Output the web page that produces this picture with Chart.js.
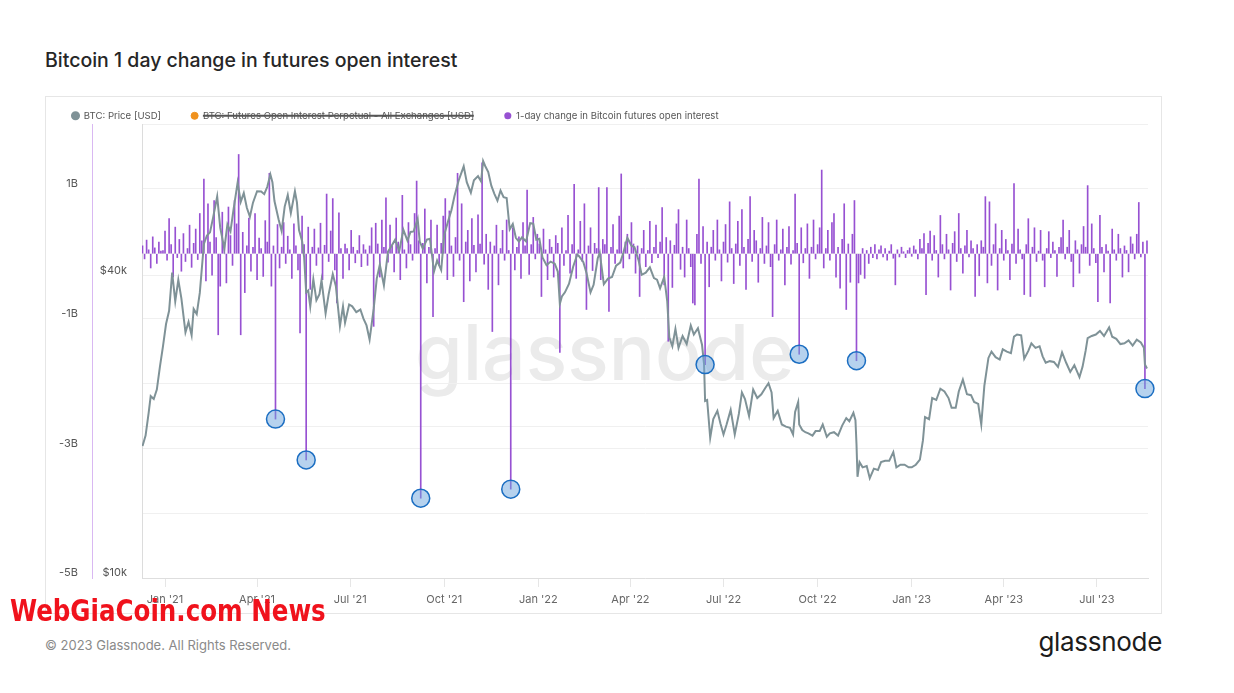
<!DOCTYPE html>
<html>
<head>
  <meta charset="UTF-8" />
  <title>Bitcoin 1 day change in futures open interest</title>
  <script src="https://cdn.jsdelivr.net/npm/chart.js"></script>
  <style>
    body { margin: 0; background: #fff; font-family: Inter, "Noto Sans", sans-serif; }
    .page { position: relative; width: 1234px; height: 693px; overflow: hidden; }
    h1 {
      position: absolute; left: 45px; top: 48px; margin: 0;
      font-size: 19.5px; line-height: 24px; font-weight: 500; color: #262626;
    }
    .card {
      position: absolute; left: 45px; top: 96px; width: 1115px; height: 516px;
      border: 1px solid #e6e6e6;
    }
    .card canvas { position: absolute; left: 0; top: 0; }
    .copy {
      position: absolute; left: 45px; top: 637px;
      font-size: 13px; line-height: 16px; color: #8a8a8a;
    }
    .logo {
      position: absolute; right: 72px; top: 627px;
      font-size: 26px; line-height: 30px; font-weight: 400; color: #1c1c1c; letter-spacing: -0.3px;
    }
    .stamp {
      position: absolute; left: 10px; top: 594px; z-index: 5;
      font-family: "DejaVu Sans Condensed", "Liberation Sans Narrow", sans-serif;
      font-size: 30px; line-height: 34px; font-weight: bold; color: #f0121c;
      transform: scaleX(0.91); transform-origin: left center; white-space: nowrap;
    }
  </style>
</head>
<body>
<div class="page">
  <h1>Bitcoin 1 day change in futures open interest</h1>
  <div class="card">
    <canvas id="oiChart" width="1115" height="516"></canvas>
  </div>
  <div class="copy">© 2023 Glassnode. All Rights Reserved.</div>
  <div class="logo">glassnode</div>
  <div class="stamp">WebGiaCoin.com News</div>
</div>

<script>
// BTC price
const priceDates = [
  '2020-12-10','2020-12-13','2020-12-16','2020-12-18','2020-12-21','2020-12-24','2020-12-27','2020-12-30',
  '2021-01-02','2021-01-05','2021-01-08','2021-01-11','2021-01-14','2021-01-17','2021-01-21','2021-01-24',
  '2021-01-27','2021-01-29','2021-02-01','2021-02-04','2021-02-08','2021-02-11','2021-02-14','2021-02-17',
  '2021-02-21','2021-02-24','2021-02-28','2021-03-03','2021-03-06','2021-03-09','2021-03-13','2021-03-16',
  '2021-03-19','2021-03-22','2021-03-25','2021-03-28','2021-04-01','2021-04-05','2021-04-08','2021-04-11',
  '2021-04-14','2021-04-16','2021-04-18','2021-04-22','2021-04-25','2021-04-28','2021-05-01','2021-05-04',
  '2021-05-08','2021-05-10','2021-05-12','2021-05-15','2021-05-17','2021-05-19','2021-05-21','2021-05-23',
  '2021-05-26','2021-05-29','2021-06-01','2021-06-03','2021-06-07','2021-06-10','2021-06-14','2021-06-17',
  '2021-06-21','2021-06-24','2021-06-26','2021-06-30','2021-07-03','2021-07-07','2021-07-11','2021-07-14',
  '2021-07-17','2021-07-20','2021-07-24','2021-07-27','2021-07-30','2021-08-03','2021-08-07','2021-08-10',
  '2021-08-14','2021-08-18','2021-08-22','2021-08-26','2021-08-29','2021-09-01','2021-09-05','2021-09-07',
  '2021-09-10','2021-09-14','2021-09-17','2021-09-21','2021-09-24','2021-09-28','2021-10-01','2021-10-05',
  '2021-10-08','2021-10-11','2021-10-15','2021-10-20','2021-10-23','2021-10-27','2021-10-30','2021-11-03',
  '2021-11-06','2021-11-08','2021-11-10','2021-11-13','2021-11-16','2021-11-19','2021-11-22','2021-11-25',
  '2021-11-28','2021-12-01','2021-12-04','2021-12-07','2021-12-10','2021-12-13','2021-12-16','2021-12-20',
  '2021-12-24','2021-12-27','2021-12-30','2022-01-02','2022-01-05','2022-01-09','2022-01-13','2022-01-17',
  '2022-01-20','2022-01-22','2022-01-24','2022-01-27','2022-01-31','2022-02-04','2022-02-08','2022-02-10',
  '2022-02-14','2022-02-17','2022-02-21','2022-02-24','2022-02-28','2022-03-02','2022-03-06','2022-03-10',
  '2022-03-14','2022-03-18','2022-03-22','2022-03-25','2022-03-29','2022-04-02','2022-04-05','2022-04-09',
  '2022-04-12','2022-04-16','2022-04-20','2022-04-24','2022-04-27','2022-04-30','2022-05-04','2022-05-07',
  '2022-05-09','2022-05-12','2022-05-15','2022-05-18','2022-05-22','2022-05-26','2022-05-30','2022-06-02',
  '2022-06-06','2022-06-10','2022-06-12','2022-06-13','2022-06-15','2022-06-18','2022-06-21','2022-06-25',
  '2022-06-28','2022-07-01','2022-07-04','2022-07-08','2022-07-12','2022-07-16','2022-07-19','2022-07-22',
  '2022-07-26','2022-07-30','2022-08-03','2022-08-07','2022-08-11','2022-08-14','2022-08-17','2022-08-19',
  '2022-08-23','2022-08-27','2022-08-31','2022-09-04','2022-09-07','2022-09-09','2022-09-12','2022-09-13',
  '2022-09-16','2022-09-19','2022-09-22','2022-09-26','2022-09-29','2022-10-03','2022-10-06','2022-10-10',
  '2022-10-13','2022-10-17','2022-10-21','2022-10-25','2022-10-29','2022-11-01','2022-11-05','2022-11-07',
  '2022-11-08','2022-11-09','2022-11-11','2022-11-14','2022-11-18','2022-11-21','2022-11-25','2022-11-29',
  '2022-12-02','2022-12-06','2022-12-10','2022-12-14','2022-12-17','2022-12-21','2022-12-25','2022-12-29',
  '2023-01-01','2023-01-05','2023-01-09','2023-01-12','2023-01-14','2023-01-18','2023-01-21','2023-01-25',
  '2023-01-29','2023-02-02','2023-02-06','2023-02-09','2023-02-13','2023-02-16','2023-02-20','2023-02-24',
  '2023-02-28','2023-03-03','2023-03-07','2023-03-10','2023-03-13','2023-03-17','2023-03-20','2023-03-24',
  '2023-03-28','2023-03-31','2023-04-04','2023-04-08','2023-04-11','2023-04-14','2023-04-18','2023-04-21',
  '2023-04-25','2023-04-28','2023-05-02','2023-05-06','2023-05-09','2023-05-12','2023-05-16','2023-05-20',
  '2023-05-24','2023-05-28','2023-06-01','2023-06-05','2023-06-09','2023-06-14','2023-06-17','2023-06-20',
  '2023-06-22','2023-06-26','2023-06-30','2023-07-04','2023-07-08','2023-07-13','2023-07-16','2023-07-20',
  '2023-07-24','2023-07-28','2023-08-01','2023-08-05','2023-08-09','2023-08-13','2023-08-16','2023-08-17',
  '2023-08-19'
];
const priceUsd = [
  18300,19200,21300,23000,22700,23700,26300,28900,
  32000,34000,40500,35500,39200,36000,30800,32300,
  30400,34300,33500,36900,46200,48000,48700,52100,
  57400,49700,45200,50500,48900,54100,61200,56000,
  58300,54500,52300,55800,58800,58700,58000,60000,
  63500,61300,56200,51700,49000,54800,57800,53200,
  58800,55800,49200,46800,43500,37000,37300,34700,
  39300,35700,36700,39100,33600,36700,40200,38100,
  31700,34700,32200,35000,34700,33800,34200,32800,
  31800,29800,34300,39400,42000,38200,44600,45600,
  47100,44700,49300,46900,48800,48900,51800,46700,
  45200,47100,47300,40700,42800,41000,48200,51500,
  53900,57500,61700,65900,61300,58400,61800,63000,
  61500,67500,66000,64200,60300,58100,56300,59000,
  57200,57000,49400,50600,47500,46700,47600,46700,
  50800,50700,47100,47300,43400,41900,42600,42200,
  40700,35100,36300,37000,38500,41600,44000,43600,
  42500,40500,37000,38300,43200,44400,38400,39400,
  39700,41800,42400,44300,47500,45800,45500,42800,
  40100,40500,41500,39500,39200,37700,39700,35500,
  30100,28900,31300,28700,30300,29200,31800,30500,
  31400,29100,26600,22500,22600,19000,20700,21500,
  20300,19300,20200,21600,19300,21200,23400,22700,
  21000,23700,22800,23200,23900,24400,23400,20800,
  21500,20200,20000,19900,19300,21400,22400,20200,
  19700,19500,19400,19200,19600,19600,20200,19100,
  19400,19500,19200,20100,20800,20500,21300,20600,
  18500,15900,17000,16600,16700,15800,16500,16400,
  17000,17100,17100,17800,16600,16800,16800,16600,
  16600,16800,17200,18800,20900,20700,22800,22600,
  23800,23500,22800,21800,21800,23500,24800,23200,
  23100,22400,22200,20200,24100,27400,28200,27500,
  27200,28500,28200,28000,30200,30500,30400,27300,
  28300,29300,28700,28900,27600,26800,27000,26900,
  26300,28100,26800,25700,26500,25100,26300,28300,
  30000,30300,30500,31000,30300,31500,30200,29900,
  29200,29300,29700,29000,29800,29400,28700,26600,
  26100
];

// 1-day change in futures open interest, billions USD, one bar every 2 days from oiStart
const oiStart = '2020-12-10';
const oiStepDays = 2;
const oiChangeB = [
  0.12,-0.08,0.21,0.06,-0.22,0.26,0.09,-0.15,0.18,0.04,       // Dec 10 2020
  0.05,0.35,-0.10,0.54,0.14,-0.36,0.41,-0.06,0.22,-0.27,      // Dec 30
  0.31,-0.12,0.08,0.44,-0.21,0.16,0.38,-0.09,0.62,0.20,       // Jan 19 2021
  1.15,-0.42,0.77,0.18,-0.33,0.82,0.25,-1.25,-0.50,0.64,      // Feb 8
  0.15,-0.45,0.72,0.28,-0.18,0.82,0.46,1.53,-1.25,0.33,       // Feb 28
  -0.60,0.12,0.55,-0.27,0.10,0.62,-0.40,0.24,0.08,-0.35,      // Mar 20
  0.51,0.18,1.24,-0.50,0.12,-2.55,0.45,-0.22,0.10,0.48,       // Apr 9
  -0.15,0.27,0.06,-0.38,0.46,0.12,-0.25,-1.22,0.58,0.14,      // Apr 29
  -3.18,0.41,-0.55,0.10,0.38,-0.18,0.09,0.47,-0.40,0.13,      // May 19
  0.92,-0.12,0.35,0.85,-0.25,-0.76,0.63,0.08,-0.38,0.15,      // Jun 8
  0.08,-0.25,0.36,0.10,-0.14,0.05,0.28,-0.20,0.14,0.06,       // Jun 28
  -0.18,0.12,0.40,-1.12,0.47,0.15,-0.36,0.52,0.10,0.86,       // Jul 18
  -0.13,0.44,0.12,-0.28,0.55,0.18,-0.40,0.90,0.06,-0.22,      // Aug 7
  0.48,0.14,-0.10,0.62,1.12,0.20,-3.77,0.16,0.69,-0.45,       // Aug 27
  0.10,0.52,-0.97,0.08,0.44,-0.18,0.16,0.58,0.85,-0.40,       // Sep 16
  0.66,0.12,-0.35,0.25,1.24,-0.10,0.77,-0.74,0.18,0.36,       // Oct 6
  -0.42,0.54,0.13,-0.28,0.60,0.15,1.40,-0.16,0.30,-0.55,      // Oct 26
  0.18,-1.20,0.12,0.44,-0.48,0.08,0.36,-0.10,0.52,0.05,       // Nov 15
  -3.63,0.40,-0.25,0.10,0.26,-0.38,0.48,0.12,0.98,-0.32,      // Dec 5
  0.14,0.56,-0.08,0.30,0.15,-0.66,0.38,0.06,-0.40,0.22,       // Dec 25
  0.10,-0.36,0.28,0.16,-1.52,0.40,-0.18,0.05,0.59,-0.30,      // Jan 14 2022
  0.14,1.07,-0.38,0.06,0.50,-0.12,0.77,-0.86,0.12,0.40,       // Feb 3
  -0.26,0.16,0.08,1.02,-0.40,0.22,0.14,1.02,-0.89,0.10,       // Feb 23
  0.45,-0.15,0.06,0.58,1.23,-0.22,0.18,0.30,-0.08,0.48,       // Mar 15
  0.15,-0.30,0.12,-0.66,0.08,0.36,-0.20,0.05,0.50,-0.14,      // Apr 4
  0.10,0.44,-0.06,0.18,0.71,-0.48,0.25,-1.35,0.20,-0.52,      // Apr 24
  0.13,0.46,0.68,-0.24,0.10,-0.36,0.52,0.08,-0.20,-0.76,      // May 14
  -0.79,0.30,1.15,-0.15,0.42,-1.71,0.18,-0.51,0.10,0.36,      // Jun 3
  -0.10,0.52,0.06,-0.42,0.18,0.45,-0.13,0.80,0.08,-0.46,      // Jun 23
  0.15,0.50,-0.18,0.68,0.10,-0.55,0.22,0.88,-0.12,0.36,       // Jul 13
  0.20,-0.44,0.08,0.56,-0.15,0.12,0.48,-0.20,-0.97,0.14,      // Aug 2
  0.52,-0.10,0.06,0.38,-0.48,0.10,0.42,-0.16,0.05,0.92,       // Aug 22
  0.16,-1.55,0.40,-0.14,0.08,0.46,-0.38,0.10,0.52,-0.08,      // Sep 11
  0.14,0.40,1.29,-0.22,0.08,0.36,-0.10,0.48,0.62,-0.36,       // Oct 1
  0.10,-0.53,0.22,0.77,-0.86,0.15,-0.44,0.30,0.82,-1.65,      // Oct 21
  -0.45,-0.32,0.08,-0.38,0.05,-0.15,0.10,-0.06,0.14,-0.08,    // Nov 10
  0.06,0.12,-0.05,0.08,-0.10,0.04,0.14,-0.07,-0.48,0.06,      // Nov 30
  -0.05,0.10,0.03,-0.06,0.05,0.09,-0.04,0.12,0.06,-0.08,      // Dec 20
  0.22,0.08,0.31,-0.63,0.16,0.35,-0.10,0.28,0.05,-0.36,       // Jan 9 2023
  0.59,0.14,-0.08,0.30,0.06,-0.56,0.16,0.34,-0.12,0.62,       // Jan 29
  0.08,-0.30,0.12,0.36,-0.05,0.20,0.08,-0.66,0.14,-0.34,      // Feb 18
  0.20,0.10,0.88,-0.45,0.80,-0.18,0.14,0.46,-0.56,0.08,       // Mar 10
  0.36,-0.10,0.22,0.05,-0.40,0.15,1.08,-0.15,0.38,0.06,       // Mar 30
  -0.08,-0.63,0.14,0.54,-0.66,0.10,0.40,-0.12,0.04,0.36,      // Apr 19
  -0.10,-0.51,0.08,0.34,-0.06,0.18,0.05,-0.35,0.10,0.25,      // May 9
  0.52,-0.08,0.10,0.36,-0.12,-0.51,0.20,0.06,-0.30,0.14,      // May 29
  0.42,0.10,1.05,-0.18,0.46,0.08,-0.14,-0.74,0.59,0.10,       // Jun 18
  -0.28,0.14,0.04,-0.76,0.38,0.06,-0.10,0.30,0.08,-0.36,      // Jul 8
  0.12,0.05,-0.28,0.26,0.15,-0.08,0.30,0.79,-0.05,0.18,       // Jul 28
  -2.08,0.20                                                  // Aug 17
];

// days circled in blue on the reference
const flaggedDates = ['2021-04-19','2021-05-19','2021-09-08','2021-12-05','2022-06-13','2022-09-13','2022-11-08','2023-08-17'];

const xTickDates = ['2021-01-01','2021-04-01','2021-07-01','2021-10-01','2022-01-01','2022-04-01','2022-07-01','2022-10-01','2023-01-01','2023-04-01','2023-07-01'];
const xTickLabels = ["Jan '21","Apr '21","Jul '21","Oct '21","Jan '22","Apr '22","Jul '22","Oct '22","Jan '23","Apr '23","Jul '23"];
const bGridValues = [-5, -4, -3, -2, -1, 0, 1, 2];
const bTickValues = [-5, -3, -1, 1];
const bTickLabels = ['-5B', '-3B', '-1B', '1B'];
const priceGridValues = [10000, 20000, 40000, 80000];
const priceTickValues = [10000, 40000];
const priceTickLabels = ['$10k', '$40k'];

// days since 1 Jan 2021
function toDay(s) {
  const [y, m, d] = s.split('-').map(Number);
  return (Date.UTC(y, m - 1, d) - Date.UTC(2021, 0, 1)) / 86400000;
}

const xTickDays = xTickDates.map(toDay);
const priceData = priceDates.map((d, i) => ({ x: toDay(d), y: priceUsd[i] }));
const oiData = oiChangeB.map((v, i) => ({ x: toDay(oiStart) + i * oiStepDays, y: v }));
const flagData = flaggedDates.map(d => oiData.find(p => p.x === toDay(d)));

const watermark = {
  id: 'watermark',
  beforeDraw(chart) {
    const ctx = chart.ctx;
    ctx.save();
    ctx.font = '500 77px Inter, sans-serif';
    ctx.fillStyle = '#ebebeb';
    ctx.textBaseline = 'alphabetic';
    ctx.fillText('glassnode', 369, 283);
    ctx.restore();
  }
};

Chart.defaults.font.family = "Inter, 'Noto Sans', sans-serif";

const axisFont = { size: 11 };

new Chart(document.getElementById('oiChart'), {
  type: 'bar',
  data: {
    datasets: [
      {
        type: 'line',
        label: 'BTC: Price [USD]',
        data: priceData,
        yAxisID: 'yP',
        borderColor: '#7f9297',
        backgroundColor: '#7f9297',
        borderWidth: 2,
        pointRadius: 0,
        tension: 0,
        order: 1
      },
      {
        type: 'line',
        label: 'BTC: Futures Open Interest Perpetual - All Exchanges [USD]',
        data: [],
        hidden: true,
        yAxisID: 'yP',
        borderColor: '#f0921e',
        backgroundColor: '#f0921e',
        order: 1
      },
      {
        type: 'bar',
        label: '1-day change in Bitcoin futures open interest',
        data: oiData,
        yAxisID: 'yB',
        backgroundColor: 'rgba(140, 62, 205, 0.9)',
        borderColor: 'rgba(140, 62, 205, 0.9)',
        barThickness: 1,
        order: 2
      },
      {
        type: 'scatter',
        label: 'flags',
        data: flagData,
        yAxisID: 'yB',
        pointRadius: 9,
        backgroundColor: 'rgba(110, 165, 222, 0.5)',
        borderColor: '#1b6ec2',
        borderWidth: 1.5,
        clip: false,
        order: 0
      }
    ]
  },
  options: {
    responsive: false,
    animation: false,
    events: [],
    layout: { padding: { top: -16, left: -4, right: 13, bottom: 5 } },
    plugins: {
      tooltip: { enabled: false },
      legend: {
        position: 'top',
        align: 'start',
        maxHeight: 43,
        labels: {
          usePointStyle: true,
          pointStyle: 'circle',
          boxWidth: 7,
          boxHeight: 5,
          padding: 30,
          color: '#555',
          font: { size: 9.6 },
          filter: item => item.datasetIndex !== 3
        }
      }
    },
    scales: {
      x: {
        type: 'linear',
        min: toDay('2020-12-09') + 0.5,
        max: toDay('2023-08-20'),
        offset: false,
        afterBuildTicks: s => { s.ticks = xTickDays.map(v => ({ value: v })); },
        afterFit: s => { s.height = 30; },
        grid: { drawOnChartArea: false, drawTicks: true, tickLength: 9, color: '#e6e6e6', offset: false },
        border: { color: '#dedede' },
        ticks: {
          autoSkip: false, maxRotation: 0, padding: 6, color: '#666', font: axisFont,
          callback: v => xTickLabels[xTickDays.indexOf(v)]
        }
      },
      // inner left axis (declared first so it sits next to the plot)
      yP: {
        type: 'logarithmic',
        position: 'left',
        min: 10000,
        max: 80000,
        afterBuildTicks: s => { s.ticks = priceGridValues.map(v => ({ value: v })); },
        afterFit: s => { s.width = 50; },
        grid: { color: '#f0f0f0', drawTicks: false },
        border: { color: '#dcdcdc' },
        ticks: {
          padding: 15, labelOffset: -5, color: '#555', font: axisFont,
          callback: v => { const k = priceTickValues.indexOf(v); return k < 0 ? '' : priceTickLabels[k]; }
        }
      },
      yB: {
        type: 'linear',
        position: 'left',
        min: -5,
        max: 2,
        afterBuildTicks: s => { s.ticks = bGridValues.map(v => ({ value: v })); },
        afterFit: s => { s.width = 50; },
        grid: { color: '#f0f0f0', drawTicks: false },
        border: { color: '#d9b8f2' },
        ticks: {
          padding: 14, labelOffset: -5, color: '#555', font: axisFont,
          callback: v => { const k = bTickValues.indexOf(v); return k < 0 ? '' : bTickLabels[k]; }
        }
      }
    }
  },
  plugins: [watermark]
});
</script>
</body>
</html>
